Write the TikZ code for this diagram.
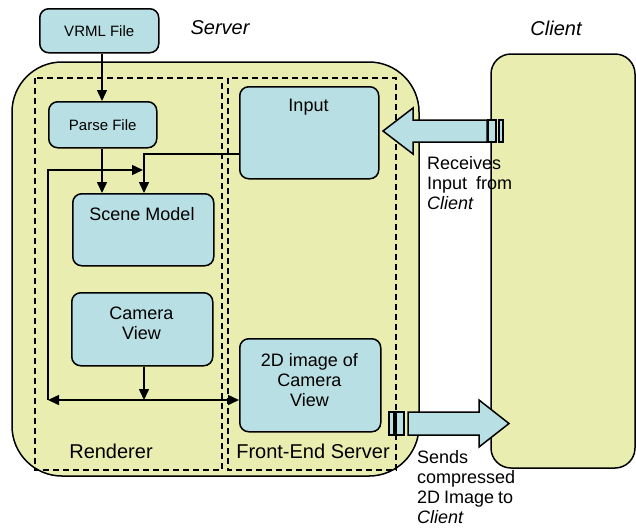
\documentclass[tikz,border=0pt]{standalone}
\usepackage{fontspec}
\setmainfont{Liberation Sans}
\usetikzlibrary{arrows.meta}
\definecolor{srvfill}{HTML}{E9EEB0}
\definecolor{boxfill}{HTML}{B8DFE3}
\tikzset{
  x=1pt, y=-1pt,
  panel/.style={draw=black, line width=1.5pt, fill=srvfill},
  zone/.style={draw=black, line width=1.5pt, dash pattern=on 6pt off 4pt},
  stepbox/.style={draw=black, line width=1.5pt, fill=boxfill, rounded corners=9pt},
  flow/.style={line width=1.5pt, -{Triangle[length=11pt,width=10pt]}},
  bigarrow/.style={draw=black, line width=1.5pt, fill=boxfill},
  txt/.style={inner sep=0pt, font=\fontsize{18}{20}\selectfont},
  smalltxt/.style={inner sep=0pt, font=\fontsize{15}{17}\selectfont},
  bigtxt/.style={inner sep=0pt, font=\fontsize{20}{22}\selectfont},
}
\begin{document}
\begin{tikzpicture}
\useasboundingbox (0,0) rectangle (636,528);

% server and client panels
\draw[panel, rounded corners=50pt] (12,62) rectangle (419,476);
\draw[panel, rounded corners=20pt] (491,54) rectangle (635,468);

% dashed zones
\draw[zone] (35,78) rectangle (222,470);
\draw[zone] (228,78) rectangle (396,470);

% headings
\node[bigtxt, font=\fontsize{20}{22}\selectfont\itshape] (server) at (220,28) {Server};
\node[bigtxt, font=\fontsize{20}{22}\selectfont\itshape] (client) at (556,28) {Client};

% processing boxes
\node[stepbox, smalltxt, minimum width=119pt, minimum height=44pt, anchor=north west] (vrml) at (39,8) {VRML File};
\node[stepbox, smalltxt, minimum width=108pt, minimum height=46pt, anchor=north west] (parse) at (48,101) {Parse File};
\node[stepbox, minimum width=141pt, minimum height=72pt, anchor=north west] (scene) at (72,193) {};
\node[txt] (scenet) at (142,214) {Scene Model};
\node[stepbox, minimum width=141pt, minimum height=73pt, anchor=north west] (camera) at (71,292) {};
\node[txt, align=center] (camerat) at (141.5,323) {Camera\\View};
\node[stepbox, minimum width=139pt, minimum height=92pt, anchor=north west] (input) at (239,86) {};
\node[txt] (inputt) at (308.5,107) {Input};
\node[stepbox, minimum width=141pt, minimum height=93pt, anchor=north west] (image) at (239,338) {};
\node[txt, align=center] (imaget) at (309.5,380) {2D image of\\Camera\\View};

% zone labels
\node[bigtxt] (rend) at (111,451) {Renderer};
\node[bigtxt] (fes) at (313,451) {Front-End Server};

% data flow
\coordinate (jn) at (144,400);
\coordinate (cl) at (48,400);
\coordinate (ct) at (48,170);
\coordinate (ent) at (143,170);
\coordinate (ib) at (144,154);
\draw[flow] (vrml.south -| 102,0) -- (parse.north -| 102,0);
\draw[flow] (parse.south -| 102,0) -- (scene.north -| 102,0);
\draw[flow] (input.west |- ib) -- (ib) -- (scene.north -| ib);
\draw[flow] (cl) -- (ct) -- (ent);
\draw[flow] (camera.south -| jn) -- (jn);
\draw[flow] (jn) -- (cl);
\draw[flow] (jn) -- (image.west |- jn);

% input from client
\draw[bigarrow] (383,131) -- (413,108) -- (413,120) -- (487,120) -- (487,142) -- (413,142) -- (413,154) -- cycle;
\draw[bigarrow] (488,120) rectangle (496,142);
\draw[bigarrow] (499,120) rectangle (503,142);

% output to client
\draw[bigarrow] (389,412) rectangle (394,435);
\draw[bigarrow] (396,412) rectangle (404,435);
\draw[bigarrow] (408,412) -- (479,412) -- (479,400) -- (509,423.5) -- (479,447) -- (479,435) -- (408,435) -- cycle;

% annotations
\node[txt, align=left, anchor=north west] (recv) at (427,156) {Receives\\\makebox[85pt][s]{Input from}\\\textit{Client}};
\node[txt, align=left, anchor=north west] (send) at (417,450) {Sends\\compressed\\\makebox[96pt][s]{2D Image to}\\\textit{Client}};
\end{tikzpicture}
\end{document}
